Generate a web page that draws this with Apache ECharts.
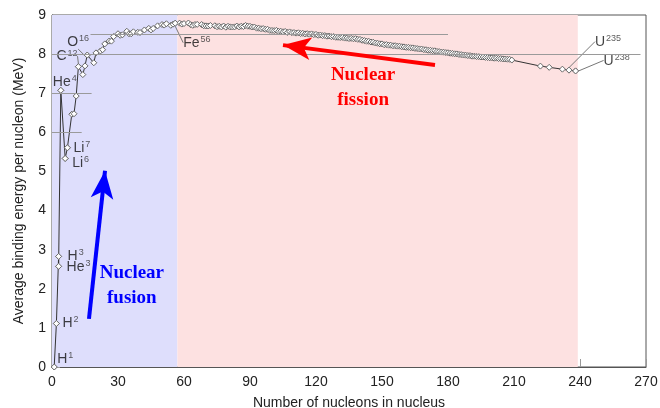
<!DOCTYPE html>
<html><head><meta charset="utf-8">
<script src="https://cdn.jsdelivr.net/npm/echarts@6/dist/echarts.min.js"></script>
<style>html,body{margin:0;padding:0;background:#fff}#chart{width:660px;height:408px}</style>
</head><body><div id="chart"></div>
<script>
// Mass number A of each nuclide and its average binding energy per nucleon (MeV)
const massNumbers = [
  1, 2, 3, 3, 4, 6, 7, 9, 10, 11, 12, 14, 15, 16, 19, 20, 22, 23, 24, 26, 27, 28, 30, 31, 32, 34, 35, 36, 37, 39,
  40, 42, 44, 45, 46, 48, 50, 51, 52, 54, 55, 56, 58, 59, 60, 62, 63, 64, 65, 66, 68, 69, 70, 71, 72, 74, 75, 76, 77, 78,
  79, 80, 81, 82, 83, 84, 85, 86, 87, 88, 89, 90, 91, 92, 93, 94, 95, 96, 97, 98, 99, 100, 101, 102, 103, 104, 105, 106, 107, 108,
  109, 110, 111, 112, 113, 114, 115, 116, 117, 118, 119, 120, 121, 122, 123, 124, 125, 126, 127, 128, 129, 130, 131, 132, 133, 134, 135, 136, 137, 138,
  139, 140, 141, 142, 143, 144, 145, 146, 147, 148, 149, 150, 151, 152, 153, 154, 155, 156, 157, 158, 159, 160, 161, 162, 163, 164, 165, 166, 167, 168,
  169, 170, 171, 172, 173, 174, 175, 176, 177, 178, 179, 180, 181, 182, 183, 184, 185, 186, 187, 188, 189, 190, 191, 192, 193, 194, 195, 196, 197, 198,
  199, 200, 201, 202, 203, 204, 205, 206, 207, 208, 209, 222, 226, 232, 235, 238
];
const bindingEnergy = [
  0, 1.112, 2.827, 2.573, 7.074, 5.332, 5.606, 6.463, 6.475, 6.928, 7.680, 7.476, 7.699, 7.976, 7.779, 8.032, 8.080, 8.112, 8.261, 8.334, 8.332, 8.448, 8.521, 8.481, 8.493, 8.584, 8.520, 8.520, 8.570, 8.557,
  8.551, 8.617, 8.658, 8.619, 8.656, 8.723, 8.756, 8.742, 8.776, 8.736, 8.765, 8.790, 8.792, 8.768, 8.781, 8.795, 8.752, 8.736, 8.757, 8.760, 8.756, 8.725, 8.722, 8.718, 8.732, 8.725, 8.701, 8.711, 8.695, 8.718,
  8.688, 8.711, 8.696, 8.693, 8.696, 8.717, 8.697, 8.712, 8.705, 8.733, 8.714, 8.710, 8.693, 8.693, 8.664, 8.662, 8.649, 8.654, 8.635, 8.635, 8.608, 8.605, 8.601, 8.607, 8.584, 8.584, 8.571, 8.580, 8.554, 8.567,
  8.548, 8.551, 8.537, 8.545, 8.527, 8.532, 8.517, 8.523, 8.510, 8.517, 8.499, 8.505, 8.482, 8.488, 8.472, 8.474, 8.458, 8.463, 8.446, 8.449, 8.431, 8.430, 8.424, 8.428, 8.410, 8.408, 8.398, 8.403, 8.392, 8.394,
  8.378, 8.376, 8.354, 8.346, 8.330, 8.327, 8.309, 8.304, 8.284, 8.277, 8.263, 8.262, 8.240, 8.244, 8.229, 8.227, 8.213, 8.215, 8.204, 8.202, 8.189, 8.184, 8.173, 8.173, 8.162, 8.159, 8.147, 8.142, 8.132, 8.130,
  8.115, 8.112, 8.098, 8.097, 8.087, 8.084, 8.069, 8.064, 8.052, 8.049, 8.039, 8.035, 8.023, 8.018, 8.008, 8.005, 7.991, 7.987, 7.978, 7.973, 7.963, 7.962, 7.948, 7.948, 7.938, 7.936, 7.927, 7.926, 7.916, 7.912,
  7.905, 7.906, 7.895, 7.897, 7.887, 7.886, 7.878, 7.875, 7.870, 7.868, 7.848, 7.694, 7.662, 7.615, 7.591, 7.570
];

// Named nuclides
const labelElements = ['H', 'H', 'H', 'He', 'He', 'Li', 'Li', 'C', 'O', 'Fe', 'U', 'U'];
const labelMass = [1, 2, 3, 3, 4, 7, 6, 12, 16, 56, 235, 238];
const labelEnergy = [0, 1.112, 2.827, 2.573, 7.074, 5.606, 5.332, 7.680, 7.976, 8.790, 7.591, 7.570];

// Axis ticks
const xTicks = [0, 30, 60, 90, 120, 150, 180, 210, 240, 270];
const yTicks = [0, 1, 2, 3, 4, 5, 6, 7, 8, 9];

// Fusion / fission regions (A ranges)
const fusionRange = [0, 57];
const fissionRange = [57, 239];

// Label placement relative to each marker (px) and whether a leader line is drawn
const labelOffsets = [[3, -8], [6, 0], [9, 0], [8, 1], [-8, -8.5], [6, 0], [7, 5], [-22, -10], [-20, -13], [8, 20], [26, -28], [28, -10]];
const labelLeaders = [false, false, false, false, false, false, false, true, true, true, true, true];

const chart = echarts.init(document.getElementById('chart'), null, { renderer: 'canvas' });

const markerStyle = { color: '#fff', borderColor: '#666', borderWidth: 1 };
const textFont = 'Liberation Sans';

const option = {
  animation: false,
  backgroundColor: '#fff',
  grid: {
    left: 52, right: 14, top: 15, bottom: 41, outerBoundsMode: 'none', containLabel: false,
    show: true, borderColor: '#555', borderWidth: 1, backgroundColor: 'transparent'
  },
  xAxis: {
    type: 'value', min: xTicks[0], max: xTicks[xTicks.length - 1], interval: 30,
    name: 'Number of nucleons in nucleus', nameLocation: 'middle', nameGap: 29,
    nameTextStyle: { fontFamily: textFont, fontSize: 14, color: '#222' },
    axisLine: { lineStyle: { color: '#555', width: 1 } },
    axisTick: { inside: true, length: 8, lineStyle: { color: '#999' } },
    axisLabel: { fontFamily: textFont, fontSize: 14, color: '#222', margin: 8 },
    splitLine: { show: false }
  },
  yAxis: {
    type: 'value', min: yTicks[0], max: yTicks[yTicks.length - 1], interval: 1,
    name: 'Average binding energy per nucleon (MeV)', nameLocation: 'middle', nameGap: 26,
    nameTextStyle: { fontFamily: textFont, fontSize: 14, color: '#222' },
    axisLine: { show: true, lineStyle: { color: '#555', width: 1 } },
    axisTick: { show: true, inside: true, length: 8, lineStyle: { color: '#999' } },
    axisLabel: { fontFamily: textFont, fontSize: 14, color: '#222', margin: 6 },
    splitLine: { show: false }
  },
  series: [
    {
      // shaded regions, reference lines and the fusion/fission arrows
      type: 'line', data: [], z: 1, silent: true,
      markArea: {
        silent: true,
        data: [
          [{ xAxis: fusionRange[0], yAxis: 0, itemStyle: { color: '#dedefc' } }, { xAxis: fusionRange[1], yAxis: 9 }],
          [{ xAxis: fissionRange[0], yAxis: 0, itemStyle: { color: '#fde1e1' } }, { xAxis: fissionRange[1], yAxis: 9 }]
        ]
      },
      markLine: {
        silent: true, symbol: 'none',
        label: { show: false },
        lineStyle: { color: '#9a9a9a', width: 1, type: 'solid' },
        data: [
          [{ coord: [0, 8] }, { coord: [267.5, 8] }],
          [{ coord: [17.5, 8.5] }, { coord: [180, 8.5] }],
          [{ coord: [0, 7] }, { coord: [18, 7] }],
          [{ coord: [0, 6] }, { coord: [13.5, 6] }],
          [{ coord: [16.8, 1.23], symbol: 'none', lineStyle: { color: '#0000ff', width: 4 } },
           { coord: [24.1, 5.02], symbol: 'arrow', symbolSize: [17, 28] }],
          [{ coord: [174.1, 7.72], symbol: 'none', lineStyle: { color: '#ff0000', width: 4 } },
           { coord: [105, 8.23], symbol: 'arrow', symbolSize: [17, 28] }]
        ]
      },
      markPoint: {
        silent: true, symbol: 'circle', symbolSize: 0,
        data: [
          { coord: [36.3, 2.08], value: 'Nuclear\nfusion', label: { color: '#0000ff' } },
          { coord: [141.4, 7.14], value: 'Nuclear\nfission', label: { color: '#ff0000' } }
        ],
        label: {
          show: true, formatter: '{c}', position: 'inside',
          fontFamily: 'Liberation Serif', fontWeight: 'bold', fontSize: 19, lineHeight: 25, align: 'center'
        }
      }
    },
    {
      type: 'line', z: 3, silent: true,
      data: massNumbers.map((a, i) => [a, bindingEnergy[i]]),
      symbol: 'diamond', symbolSize: 6, showAllSymbol: true,
      itemStyle: markerStyle,
      lineStyle: { color: '#333', width: 1 }
    },
    {
      type: 'scatter', z: 4, silent: true,
      symbol: 'diamond', symbolSize: 6, itemStyle: markerStyle,
      data: labelMass.map((a, i) => ({
        value: [a, labelEnergy[i]],
        name: labelElements[i],
        labelLine: { show: labelLeaders[i] }
      })),
      label: {
        show: true, position: 'right', color: '#222',
        formatter: p => '{e|' + labelElements[p.dataIndex] + '}{s|' + labelMass[p.dataIndex] + '}',
        rich: {
          e: { fontFamily: textFont, fontSize: 14, color: '#111', lineHeight: 16 },
          s: { fontFamily: textFont, fontSize: 9, color: '#333', verticalAlign: 'top', lineHeight: 10, padding: [0, 0, 0, 1] }
        }
      },
      labelLine: { show: true, lineStyle: { color: '#777', width: 1 } },
      labelLayout: p => {
        const off = labelOffsets[p.dataIndex];
        const cx = p.rect.x + p.rect.width / 2;
        const cy = p.rect.y + p.rect.height / 2;
        return { x: cx + off[0], y: cy + off[1], align: 'left', verticalAlign: 'middle' };
      }
    }
  ]
};
chart.setOption(option);
</script></body></html>
